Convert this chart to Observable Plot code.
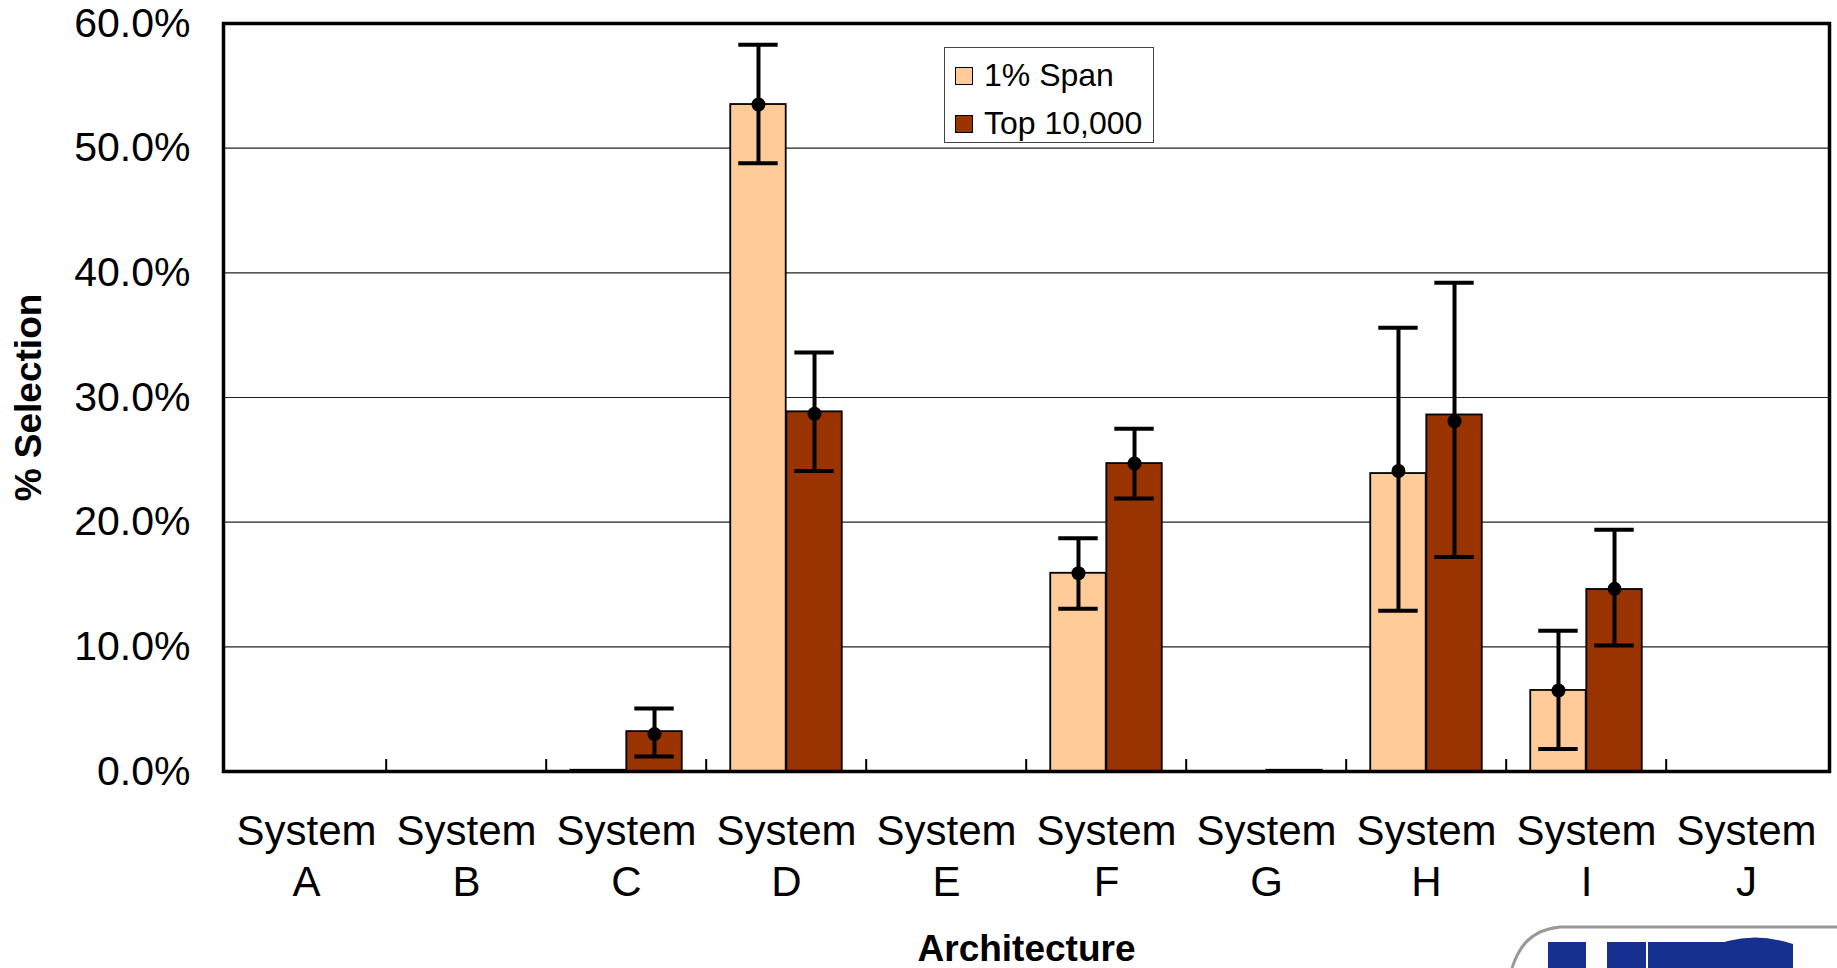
<!DOCTYPE html>
<html>
<head>
<meta charset="utf-8">
<script src="https://cdn.jsdelivr.net/npm/d3@7"></script>
<script src="https://cdn.jsdelivr.net/npm/@observablehq/plot@0.6"></script>
<style>
  body { margin: 0; background: #fff; }
  #wrap { position: relative; width: 1837px; height: 968px; overflow: hidden; background: #fff;
          font-family: "Liberation Sans", Arial, sans-serif; }
  .legend { position: absolute; left: 944px; top: 47px; width: 210px; height: 96px;
            border: 1.5px solid #444; background: #fff; box-sizing: border-box; }
  .legend .item { position: absolute; left: 10px; display: flex; align-items: center; font-size: 32px; color: #000; }
  .legend .sw { width: 16px; height: 16px; border: 1.5px solid #000; margin-right: 11px; }
  #logo { position: absolute; left: 0; top: 0; }
</style>
</head>
<body>
<div id="wrap"></div>
<script>
// ---- data ----
const systems = ["A", "B", "C", "D", "E", "F", "G", "H", "I", "J"];
const seriesNames = ["1% Span", "Top 10,000"];
const seriesColors = ["#FFCC99", "#993300"];

const spanValues = [0, 0, 0.1, 53.5, 0, 15.9, 0, 23.9, 6.5, 0];
const spanMeans  = [null, null, null, 53.5, null, 15.9, null, 24.1, 6.5, null];
const spanLow    = [null, null, null, 48.8, null, 13.05, null, 12.9, 1.8, null];
const spanHigh   = [null, null, null, 58.3, null, 18.7, null, 35.6, 11.3, null];

const topValues  = [0, 0, 3.2, 28.85, 0, 24.7, 0.1, 28.6, 14.6, 0];
const topMeans   = [null, null, 3.0, 28.7, null, 24.7, null, 28.1, 14.65, null];
const topLow     = [null, null, 1.2, 24.1, null, 21.9, null, 17.2, 10.1, null];
const topHigh    = [null, null, 5.05, 33.6, null, 27.5, null, 39.2, 19.4, null];

const yTicks = [0, 10, 20, 30, 40, 50, 60];
const gridTicks = [10, 20, 30, 40, 50];

// ---- layout / style ----
const W = 1837, H = 968;
const mL = 223, mR = 8, mT = 23, mB = 197;
const step = (W - mL - mR) / systems.length;
const barW = step * 0.349;
const capHalf = 20;
const frameH = H - mT - mB;

const makeRows = (vals, means, lo, hi) => systems.map((s, i) => ({system: s, value: vals[i], mean: means[i], low: lo[i], high: hi[i]}));
const spanRows = makeRows(spanValues, spanMeans, spanLow, spanHigh);
const topRows = makeRows(topValues, topMeans, topLow, topHigh);
const withErr = (r) => r.filter(d => d.low != null);

function seriesMarks(data, color, side) {
  const half = step / 2;
  const barInsetL = side < 0 ? half - barW : half;
  const barInsetR = side < 0 ? half : half - barW;
  const cx = side * barW / 2;
  const capL = half + cx - capHalf;
  const capR = half - cx - capHalf;
  const e = withErr(data);
  return [
    Plot.barY(data, {x: "system", y: "value", fill: color, stroke: "#000", strokeWidth: 1.8,
                     insetLeft: barInsetL, insetRight: barInsetR}),
    Plot.ruleX(e, {x: "system", y1: "low", y2: "high", dx: cx, stroke: "#000", strokeWidth: 4}),
    Plot.tickY(e, {x: "system", y: "high", insetLeft: capL, insetRight: capR, stroke: "#000", strokeWidth: 4}),
    Plot.tickY(e, {x: "system", y: "low", insetLeft: capL, insetRight: capR, stroke: "#000", strokeWidth: 4}),
    Plot.dot(e, {x: "system", y: "mean", dx: cx, r: 7, fill: "#000", stroke: "none"})
  ];
}

const chart = Plot.plot({
  width: W, height: H,
  marginLeft: mL, marginRight: mR, marginTop: mT, marginBottom: mB,
  style: {fontFamily: "'Liberation Sans', Arial, sans-serif", background: "#fff", color: "#000"},
  x: {type: "band", domain: systems, padding: 0},
  y: {domain: [0, 60]},
  marks: [
    Plot.ruleY(gridTicks, {stroke: "#222", strokeWidth: 1.2}),
    ...seriesMarks(spanRows, seriesColors[0], -1),
    ...seriesMarks(topRows, seriesColors[1], 1),
    Plot.ruleX(systems.slice(1), {x: d => d, dx: -step / 2, insetTop: frameH - 12, stroke: "#000", strokeWidth: 2}),
    Plot.axisY({ticks: yTicks, tickSize: 0, tickPadding: 33, fontSize: 41, tickFormat: d => d.toFixed(1) + "%", label: null}),
    Plot.axisX({tickSize: 0, tickPadding: 37, fontSize: 42, lineHeight: 1.22, tickFormat: d => "System\n" + d, label: null}),
    Plot.text(["% Selection"], {frameAnchor: "left", dx: -194, rotate: -90, fontSize: 37, fontWeight: "bold", textAnchor: "middle"}),
    Plot.text(["Architecture"], {frameAnchor: "bottom", dy: 189, fontSize: 37, fontWeight: "bold", textAnchor: "middle"}),
    Plot.frame({stroke: "#000", strokeWidth: 3.5})
  ]
});

const wrap = document.getElementById("wrap");
wrap.appendChild(chart);

// legend
const lg = document.createElement("div");
lg.className = "legend";
seriesNames.forEach((name, i) => {
  const it = document.createElement("div");
  it.className = "item";
  it.style.top = (i === 0 ? 9 : 57) + "px";
  const sw = document.createElement("div");
  sw.className = "sw";
  sw.style.background = seriesColors[i];
  const tx = document.createElement("span");
  tx.textContent = name;
  it.appendChild(sw); it.appendChild(tx);
  lg.appendChild(it);
});
wrap.appendChild(lg);

// logo fragment (bottom right, partially cut off)
const ns = "http://www.w3.org/2000/svg";
const logo = document.createElementNS(ns, "svg");
logo.setAttribute("id", "logo");
logo.setAttribute("width", W); logo.setAttribute("height", H);
logo.innerHTML = `
  <path d="M1512,968 C1518,950 1528,930 1560,927 L1837,927" fill="none" stroke="#999" stroke-width="3"/>
  <rect x="1548" y="942" width="38" height="30" fill="#15308E"/>
  <rect x="1607" y="942" width="39" height="30" fill="#15308E"/>
  <rect x="1648" y="942" width="80" height="30" fill="#15308E"/>
  <path d="M1700,972 L1700,952 Q1745,928 1793,944 L1793,972 Z" fill="#15308E"/>`;
logo.style.pointerEvents = "none";
wrap.appendChild(logo);
</script>
</body>
</html>
